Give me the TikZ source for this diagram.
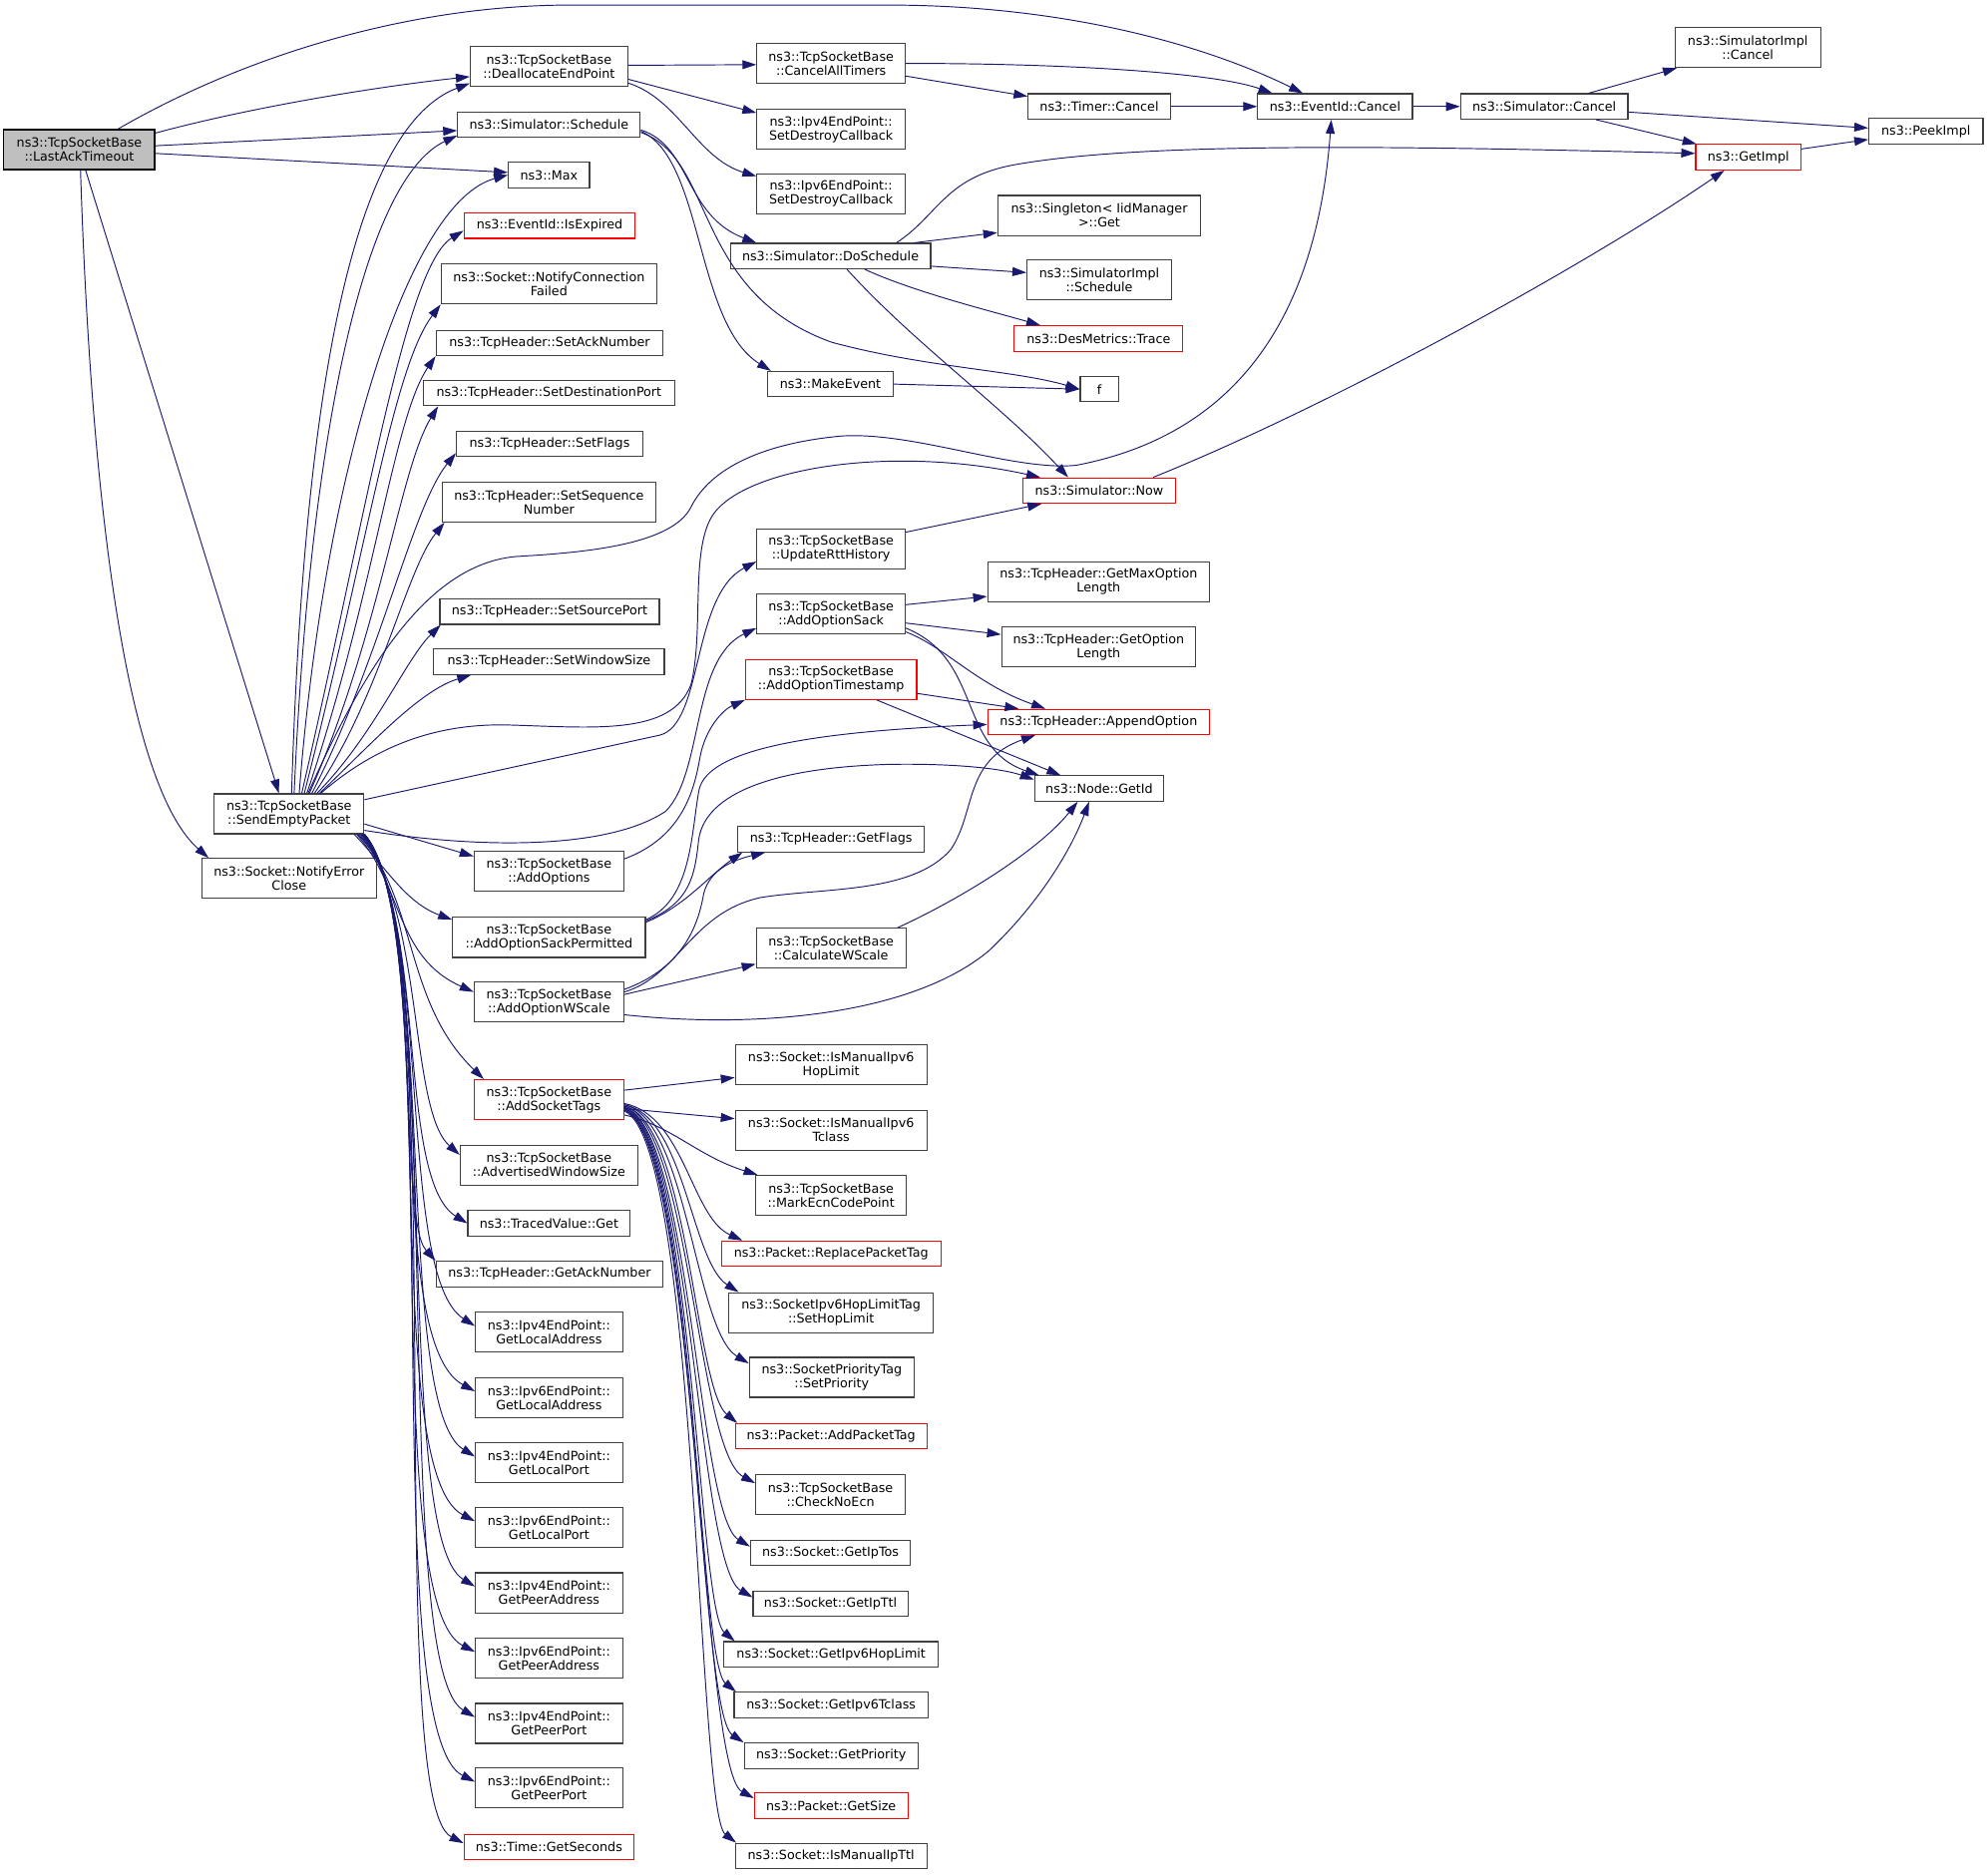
\documentclass[tikz,border=0pt]{standalone}
\usepackage{fontspec}
\setmainfont{DejaVu Sans}
\usetikzlibrary{arrows.meta,calc}
\definecolor{edgeblue}{HTML}{191970}
\definecolor{boxline}{HTML}{404040}
\definecolor{rootfill}{HTML}{BFBFBF}
\tikzset{
	fn/.style={draw=boxline, line width=0.9pt, fill=white, minimum height=20pt, inner sep=0pt, align=center, font=\fontsize{10}{11}\selectfont},
	fnii/.style={fn, minimum height=31.5pt},
	trunc/.style={draw=red},
	rootfn/.style={fill=rootfill, draw=black},
	call/.style={draw=edgeblue, line width=0.75pt, -{Triangle[length=11pt,width=7pt]}},
}

\begin{document}
\begin{tikzpicture}[x=1pt, y=-1pt]
		%%%%% START %%%%%
		
		\path[fill=white] (0,0) rectangle (1568,1479);
		
		\node[fnii, rootfn, minimum width=119pt] (lastack) at (62.5,118) {ns3::TcpSocketBase\\::LastAckTimeout};
		
		\node[fnii, minimum width=124pt] (dealloc) at (433,52.5) {ns3::TcpSocketBase\\::DeallocateEndPoint};
		\node[fn, minimum width=144pt] (schedule) at (433,98.5) {ns3::Simulator::Schedule};
		\node[fn, minimum width=64pt] (max) at (433,138) {ns3::Max};
		\node[fn, trunc, minimum width=135pt] (isexpired) at (433.5,178) {ns3::EventId::IsExpired};
		\node[fnii, minimum width=170pt] (notifyconn) at (433,224) {ns3::Socket::NotifyConnection\\Failed};
		\node[fn, minimum width=179pt] (setack) at (433.5,270.5) {ns3::TcpHeader::SetAckNumber};
		\node[fn, minimum width=198pt] (setdest) at (433,310) {ns3::TcpHeader::SetDestinationPort};
		\node[fn, minimum width=147pt] (setflags) at (433.5,350) {ns3::TcpHeader::SetFlags};
		\node[fnii, minimum width=168pt] (setseq) at (433,396) {ns3::TcpHeader::SetSequence\\Number};
		\node[fn, minimum width=173pt] (setsrc) at (433.5,482.5) {ns3::TcpHeader::SetSourcePort};
		\node[fn, minimum width=182pt] (setwin) at (433,522) {ns3::TcpHeader::SetWindowSize};
		
		\node[fnii, minimum width=118pt] (sendempty) at (228,642) {ns3::TcpSocketBase\\::SendEmptyPacket};
		\node[fnii, minimum width=138pt] (notifyerr) at (228,693) {ns3::Socket::NotifyError\\Close};
		
		\node[fnii, minimum width=118pt] (addopts) at (433,687.5) {ns3::TcpSocketBase\\::AddOptions};
		\node[fnii, minimum width=152pt] (sackperm) at (433,739.5) {ns3::TcpSocketBase\\::AddOptionSackPermitted};
		\node[fnii, minimum width=118pt] (wscale) at (433,790.5) {ns3::TcpSocketBase\\::AddOptionWScale};
		\node[fnii, trunc, minimum width=118pt] (socktags) at (433,867.5) {ns3::TcpSocketBase\\::AddSocketTags};
		\node[fnii, minimum width=140pt] (advwin) at (433,919) {ns3::TcpSocketBase\\::AdvertisedWindowSize};
		\node[fn, minimum width=128pt] (tracedget) at (433,965) {ns3::TracedValue::Get};
		\node[fn, minimum width=179pt] (getacknum) at (433.5,1005) {ns3::TcpHeader::GetAckNumber};
		\node[fnii, minimum width=116pt] (v4localaddr) at (433,1051) {ns3::Ipv4EndPoint::\\GetLocalAddress};
		\node[fnii, minimum width=116pt] (v6localaddr) at (433,1102.5) {ns3::Ipv6EndPoint::\\GetLocalAddress};
		\node[fnii, minimum width=116pt] (v4localport) at (433,1154) {ns3::Ipv4EndPoint::\\GetLocalPort};
		\node[fnii, minimum width=116pt] (v6localport) at (433,1205) {ns3::Ipv6EndPoint::\\GetLocalPort};
		\node[fnii, minimum width=116pt] (v4peeraddr) at (433,1256.5) {ns3::Ipv4EndPoint::\\GetPeerAddress};
		\node[fnii, minimum width=116pt] (v6peeraddr) at (433,1308) {ns3::Ipv6EndPoint::\\GetPeerAddress};
		\node[fnii, minimum width=116pt] (v4peerport) at (433,1359.5) {ns3::Ipv4EndPoint::\\GetPeerPort};
		\node[fnii, minimum width=116pt] (v6peerport) at (433,1410.5) {ns3::Ipv6EndPoint::\\GetPeerPort};
		\node[fn, trunc, minimum width=134pt] (getseconds) at (433,1457) {ns3::Time::GetSeconds};
		
		\node[fnii, minimum width=117pt] (cancelall) at (655.5,50) {ns3::TcpSocketBase\\::CancelAllTimers};
		\node[fnii, minimum width=117pt] (v4destroy) at (655.5,102) {ns3::Ipv4EndPoint::\\SetDestroyCallback};
		\node[fnii, minimum width=117pt] (v6destroy) at (655.5,153) {ns3::Ipv6EndPoint::\\SetDestroyCallback};
		\node[fn, minimum width=158pt] (doschedule) at (655,202) {ns3::Simulator::DoSchedule};
		\node[fn, minimum width=99pt] (makeevent) at (655,303) {ns3::MakeEvent};
		\node[fnii, minimum width=117pt] (updatertt) at (655.5,433) {ns3::TcpSocketBase\\::UpdateRttHistory};
		\node[fnii, minimum width=117pt] (addsack) at (655.5,484.5) {ns3::TcpSocketBase\\::AddOptionSack};
		\node[fnii, trunc, minimum width=135pt] (addts) at (655.5,536) {ns3::TcpSocketBase\\::AddOptionTimestamp};
		\node[fn, minimum width=147pt] (getflags) at (655.5,662) {ns3::TcpHeader::GetFlags};
		\node[fnii, minimum width=118pt] (calcws) at (655.5,748) {ns3::TcpSocketBase\\::CalculateWScale};
		
		\node[fnii, minimum width=151pt] (ismanhop) at (655.5,840) {ns3::Socket::IsManualIpv6\\HopLimit};
		\node[fnii, minimum width=151pt] (ismantcl) at (655.5,891.5) {ns3::Socket::IsManualIpv6\\Tclass};
		\node[fnii, minimum width=119pt] (markecn) at (655.5,943) {ns3::TcpSocketBase\\::MarkEcnCodePoint};
		\node[fn, trunc, minimum width=173pt] (replacetag) at (655.5,989) {ns3::Packet::ReplacePacketTag};
		\node[fnii, minimum width=161pt] (sethoplimit) at (655.5,1035.5) {ns3::SocketIpv6HopLimitTag\\::SetHopLimit};
		\node[fnii, minimum width=130pt] (setprio) at (656,1086.5) {ns3::SocketPriorityTag\\::SetPriority};
		\node[fn, trunc, minimum width=151pt] (addtag) at (655.5,1133) {ns3::Packet::AddPacketTag};
		\node[fnii, minimum width=118pt] (checknoecn) at (655,1179) {ns3::TcpSocketBase\\::CheckNoEcn};
		\node[fn, minimum width=126pt] (getiptos) at (655,1225) {ns3::Socket::GetIpTos};
		\node[fn, minimum width=122pt] (getipttl) at (655,1265) {ns3::Socket::GetIpTtl};
		\node[fn, minimum width=169pt] (getv6hop) at (655.5,1305) {ns3::Socket::GetIpv6HopLimit};
		\node[fn, minimum width=153pt] (getv6tclass) at (655.5,1345) {ns3::Socket::GetIpv6Tclass};
		\node[fn, minimum width=137pt] (getprio) at (655.5,1385) {ns3::Socket::GetPriority};
		\node[fn, trunc, minimum width=121pt] (getsize) at (655.5,1424.5) {ns3::Packet::GetSize};
		\node[fn, minimum width=151pt] (ismanttl) at (655.5,1464) {ns3::Socket::IsManualIpTtl};
		
		\node[fn, minimum width=112pt] (timercancel) at (867,84) {ns3::Timer::Cancel};
		\node[fnii, minimum width=160pt] (singleton) at (867,170) {ns3::Singleton< IidManager\\>::Get};
		\node[fnii, minimum width=114pt] (simimplsched) at (867,221) {ns3::SimulatorImpl\\::Schedule};
		\node[fn, trunc, minimum width=133pt] (destrace) at (866.5,267) {ns3::DesMetrics::Trace};
		\node[fn, minimum width=30pt] (fnode) at (867,307) {f};
		\node[fn, trunc, minimum width=120pt] (simnow) at (867,387) {ns3::Simulator::Now};
		\node[fnii, minimum width=175pt] (getmaxopt) at (866.5,459) {ns3::TcpHeader::GetMaxOption\\Length};
		\node[fnii, minimum width=153pt] (getoptlen) at (866.5,510.5) {ns3::TcpHeader::GetOption\\Length};
		\node[fn, trunc, minimum width=175pt] (appendopt) at (866.5,569.5) {ns3::TcpHeader::AppendOption};
		\node[fn, minimum width=102pt] (nodegetid) at (867,622) {ns3::Node::GetId};
		
		\node[fn, minimum width=122pt] (eventcancel) at (1053,84) {ns3::EventId::Cancel};
		\node[fn, minimum width=132pt] (simcancel) at (1218,84) {ns3::Simulator::Cancel};
		\node[fnii, minimum width=115pt] (simimplcancel) at (1378.5,37.5) {ns3::SimulatorImpl\\::Cancel};
		\node[fn, trunc, minimum width=83pt] (getimpl) at (1379,124) {ns3::GetImpl};
		\node[fn, minimum width=90pt] (peekimpl) at (1519,103.5) {ns3::PeekImpl};
		
		% LastAckTimeout
		\draw[call] (lastack.28) .. controls (200,40) and (330,4) .. (450,4) -- (700,4) .. controls (850,4) and (960,40) .. ($(eventcancel.north west)+(36,0)$);
		\draw[call] ($(lastack.east)+(0,-13)$) .. controls (200,84) and (300,68) .. ($(dealloc.west)+(0,8)$);
		\draw[call] ($(lastack.east)+(0,-3)$) -- ($(schedule.west)+(0,4.5)$);
		\draw[call] ($(lastack.east)+(0,3)$) -- ($(max.west)+(0,-2)$);
		\draw[call] ($(lastack.south)+(5,0)$) -- ($(sendempty.north)+(-8,0)$);
		\draw[call] ($(lastack.south)+(1,0)$) .. controls (72,400) and (100,620) .. ($(notifyerr.north west)+(6,0)$);
		
		% DeallocateEndPoint, timers, impl
		\draw[call] ($(dealloc.east)+(0,-1)$) -- ($(cancelall.west)+(0,1)$);
		\draw[call] ($(dealloc.east)+(0,10)$) -- ($(v4destroy.west)+(0,-13)$);
		\draw[call] ($(dealloc.east)+(0,13)$) .. controls (535,78) and (550,125) .. ($(v6destroy.west)+(0,-14)$);
		\draw[call] (cancelall.east) .. controls (850,50) and (960,58) .. ($(eventcancel.north west)+(12,0)$);
		\draw[call] ($(cancelall.east)+(0,10)$) -- ($(timercancel.west)+(0,-8)$);
		\draw[call] (timercancel.east) -- (eventcancel.west);
		\draw[call] (eventcancel.east) -- (simcancel.west);
		\draw[call] ($(simcancel.north)+(35,0)$) -- ($(simimplcancel.south west)+(2,0)$);
		\draw[call] ($(simcancel.east)+(0,4.4)$) -- ($(peekimpl.west)+(0,-2.5)$);
		\draw[call] ($(simcancel.south)+(41,0)$) -- ($(getimpl.north west)+(1,0)$);
		\draw[call] ($(getimpl.east)+(0,-6.5)$) -- ($(peekimpl.west)+(0,6.5)$);
		
		% Schedule
		\draw[call] ($(schedule.east)+(0,4)$) .. controls (545,115) and (540,170) .. ($(doschedule.north west)+(21,0)$);
		\draw[call] ($(schedule.east)+(0,5)$) .. controls (555,125) and (548,255) .. ($(makeevent.north west)+(3,0)$);
		\draw[call] ($(schedule.east)+(0,6)$) .. controls (565,125) and (545,230) .. (656,270) .. controls (730,290) and (800,292) .. (fnode.west);
		\draw[call] ($(doschedule.north)+(52,0)$) .. controls (740,170) and (745,140) .. (800,130) .. controls (900,112) and (1100,115) .. ($(getimpl.west)+(0,-3)$);
		\draw[call] ($(doschedule.north)+(66,0)$) -- ($(singleton.west)+(0,13.5)$);
		\draw[call] ($(doschedule.east)+(0,8)$) -- ($(simimplsched.west)+(0,-6)$);
		\draw[call] ($(doschedule.south)+(27,0)$) .. controls (720,230) and (780,245) .. ($(destrace.north west)+(21,0)$);
		\draw[call] ($(doschedule.south)+(13,0)$) .. controls (720,270) and (790,320) .. ($(simnow.north west)+(36,0)$);
		\draw[call] (makeevent.east) -- (fnode.west);
		\draw[call] ($(simnow.north east)+(-18,0)$) .. controls (1050,320) and (1250,210) .. ($(getimpl.south west)+(23,0)$);
		\draw[call] ($(updatertt.north east)+(0,3)$) -- ($(simnow.south west)+(15,0)$);
		
		% options
		\draw[call] ($(addsack.east)+(0,-7.5)$) -- ($(getmaxopt.west)+(0,11.5)$);
		\draw[call] ($(addsack.east)+(0,7)$) -- ($(getoptlen.west)+(0,-10)$);
		\draw[call] ($(addsack.east)+(0,14)$) .. controls (745,510) and (770,540) .. ($(appendopt.north west)+(46,0)$);
		\draw[call] ($(addsack.east)+(0,11)$) .. controls (775,520) and (755,590) .. ($(nodegetid.north west)+(4,0)$);
		\draw[call] ($(addts.east)+(0,11)$) -- ($(appendopt.north west)+(25,0)$);
		\draw[call] ($(addts.south)+(36,0)$) -- ($(nodegetid.north west)+(21,0)$);
		\draw[call] ($(addopts.east)+(0,-10)$) .. controls (540,660) and (548,620) .. (552,598) .. controls (556,575) and (570,560) .. (addts.south west);
		\draw[call] ($(sackperm.east)+(0,-12)$) .. controls (540,715) and (560,690) .. ($(getflags.south west)+(4,0)$);
		\draw[call] ($(sackperm.east)+(0,-14)$) .. controls (545,710) and (545,660) .. (551,625) .. controls (555,595) and (620,578) .. ($(appendopt.west)+(0,2)$);
		\draw[call] ($(sackperm.east)+(0,-13)$) .. controls (545,712) and (548,690) .. (551,663) .. controls (555,630) and (600,606) .. (700,603) .. controls (750,602) and (790,606) .. ($(nodegetid.west)+(0,-7)$);
		\draw[call] ($(wscale.east)+(0,-10)$) .. controls (535,765) and (550,735) .. (555,705) .. controls (560,685) and (580,678) .. ($(getflags.south west)+(22,0)$);
		\draw[call] ($(wscale.east)+(0,-8)$) .. controls (535,770) and (545,720) .. (600,708) .. controls (650,700) and (720,705) .. (750,670) .. controls (770,640) and (760,600) .. ($(appendopt.south west)+(38,0)$);
		\draw[call] ($(wscale.east)+(0,-6)$) -- ($(calcws.west)+(0,12.5)$);
		\draw[call] ($(wscale.east)+(0,10)$) .. controls (600,812) and (720,800) .. (780,750) .. controls (820,712) and (845,670) .. ($(nodegetid.south)+(-8,0)$);
		\draw[call] ($(calcws.north east)+(-7,0)$) .. controls (760,708) and (820,670) .. ($(nodegetid.south)+(-17,0)$);
		
		% SendEmptyPacket up
		\draw[call] ($(sendempty.north)+(2,0)$) .. controls (240,300) and (280,100) .. ($(dealloc.south west)+(0,-3)$);
		\draw[call] ($(sendempty.north)+(4,0)$) .. controls (245,330) and (290,140) .. ($(schedule.south west)+(0,-2)$);
		\draw[call] ($(sendempty.north)+(8,0)$) .. controls (255,380) and (320,160) .. (max.west);
		\draw[call] ($(sendempty.north)+(10,0)$) .. controls (290,400) and (320,210) .. ($(isexpired.west)+(0,4)$);
		\draw[call] ($(sendempty.north)+(12,0)$) .. controls (290,430) and (310,290) .. (notifyconn.south west);
		\draw[call] ($(sendempty.north)+(14,0)$) .. controls (295,470) and (310,330) .. (setack.south west);
		\draw[call] ($(sendempty.north)+(16,0)$) .. controls (300,500) and (315,370) .. ($(setdest.south west)+(12,0)$);
		\draw[call] ($(sendempty.north)+(18,0)$) .. controls (300,520) and (325,400) .. ($(setflags.south west)+(0,-3)$);
		\draw[call] ($(sendempty.north)+(20,0)$) .. controls (300,550) and (320,450) .. ($(setseq.south west)+(2,0)$);
		\draw[call] ($(sendempty.north)+(22,0)$) .. controls (295,580) and (320,520) .. ($(setsrc.south west)+(1,0)$);
		\draw[call] ($(sendempty.north)+(24,0)$) .. controls (290,590) and (330,545) .. ($(setwin.south west)+(30,0)$);
		
		% SendEmptyPacket right
		\draw[call] ($(sendempty.north)+(15,0)$) .. controls (290,520) and (340,445) .. (407,439) .. controls (460,436) and (530,430) .. (545,400) .. controls (560,370) and (600,350) .. (663,344) .. controls (720,340) and (800,372) .. (849,367) .. controls (990,340) and (1040,230) .. ($(eventcancel.south)+(-3,0)$);
		\draw[call] ($(sendempty.north)+(25,0)$) .. controls (300,585) and (350,570) .. (404,572) .. controls (470,574) and (530,580) .. (545,540) .. controls (555,500) and (545,440) .. (560,410) .. controls (580,370) and (700,350) .. ($(simnow.north west)+(14,0)$);
		\draw[call] ($(sendempty.north east)+(0,5)$) -- (520,580) .. controls (555,572) and (545,470) .. ($(updatertt.west)+(0,10)$);
		\draw[call] ($(sendempty.east)+(0,13)$) .. controls (380,670) and (480,670) .. (525,640) .. controls (555,610) and (545,520) .. ($(addsack.west)+(0,11)$);
		\draw[call] ($(sendempty.east)+(0,8)$) -- ($(addopts.west)+(0,-12)$);
		
		% SendEmptyPacket down
		\draw[call] ($(sendempty.south east)+(-8,0)$) .. controls (305,685) and (320,712) .. ($(sackperm.west)+(0,-14)$);
		\draw[call] ($(sendempty.south east)+(-6,0)$) .. controls (318,700) and (312,755) .. ($(wscale.west)+(0,-8)$);
		\draw[call] ($(sendempty.south east)+(-5,0)$) .. controls (330,710) and (318,790) .. ($(socktags.north west)+(8,0)$);
		\draw[call] ($(sendempty.south east)+(-4,0)$) .. controls (335,715) and (322,875) .. ($(advwin.west)+(0,-8)$);
		\draw[call] ($(sendempty.south east)+(-3,0)$) .. controls (338,718) and (312,930) .. (tracedget.west);
		\draw[call] ($(sendempty.south east)+(-2,0)$) .. controls (340,720) and (312,960) .. (getacknum.north west);
		\draw[call] ($(sendempty.south east)+(-2,0)$) .. controls (342,722) and (312,1006) .. ($(v4localaddr.west)+(0,-5)$);
		\draw[call] ($(sendempty.south east)+(-1,0)$) .. controls (344,724) and (300,1057) .. ($(v6localaddr.west)+(0,-5)$);
		\draw[call] ($(sendempty.south east)+(-1,0)$) .. controls (346,726) and (310,1109) .. ($(v4localport.west)+(0,-5)$);
		\draw[call] ($(sendempty.south east)+(0,0)$) .. controls (348,728) and (298,1160) .. ($(v6localport.west)+(0,-5)$);
		\draw[call] ($(sendempty.south east)+(0,0)$) .. controls (350,730) and (308,1211) .. ($(v4peeraddr.west)+(0,-5)$);
		\draw[call] ($(sendempty.south east)+(0,0)$) .. controls (352,732) and (296,1263) .. ($(v6peeraddr.west)+(0,-5)$);
		\draw[call] ($(sendempty.south east)+(0,0)$) .. controls (354,734) and (306,1314) .. ($(v4peerport.west)+(0,-5)$);
		\draw[call] ($(sendempty.south east)+(0,0)$) .. controls (356,736) and (294,1365) .. ($(v6peerport.west)+(0,-5)$);
		\draw[call] ($(sendempty.south east)+(0,0)$) .. controls (358,738) and (300,1420) .. ($(getseconds.west)+(0,-3)$);
		
		% AddSocketTags
		\draw[call] ($(socktags.east)+(0,-7.5)$) -- ($(ismanhop.west)+(0,10)$);
		\draw[call] ($(socktags.east)+(0,7)$) -- ($(ismantcl.west)+(0,-9)$);
		\draw[call] ($(socktags.east)+(0,12)$) .. controls (530,888) and (550,912) .. ($(markecn.north west)+(2,0)$);
		\draw[call] ($(socktags.east)+(0,3)$) .. controls (540,880) and (545,960) .. ($(replacetag.north west)+(17,0)$);
		\draw[call] ($(socktags.east)+(0,4)$) .. controls (540,880) and (545,995) .. ($(sethoplimit.north west)+(8,0)$);
		\draw[call] ($(socktags.east)+(0,4)$) .. controls (542,882) and (548,1050) .. ($(setprio.west)+(0,-11)$);
		\draw[call] ($(socktags.east)+(0,5)$) .. controls (543,884) and (548,1095) .. ($(addtag.north west)+(2,0)$);
		\draw[call] ($(socktags.east)+(0,5)$) .. controls (544,886) and (550,1145) .. ($(checknoecn.west)+(0,-9)$);
		\draw[call] ($(socktags.east)+(0,6)$) .. controls (545,888) and (550,1195) .. ($(getiptos.west)+(0,-5)$);
		\draw[call] ($(socktags.east)+(0,6)$) .. controls (546,890) and (550,1235) .. ($(getipttl.west)+(0,-5)$);
		\draw[call] ($(socktags.east)+(0,7)$) .. controls (547,892) and (550,1270) .. ($(getv6hop.north west)+(9,0)$);
		\draw[call] ($(socktags.east)+(0,7)$) .. controls (548,894) and (550,1310) .. ($(getv6tclass.north west)+(2,0)$);
		\draw[call] ($(socktags.east)+(0,8)$) .. controls (549,896) and (550,1350) .. (getprio.north west);
		\draw[call] ($(socktags.east)+(0,8)$) .. controls (550,898) and (552,1395) .. ($(getsize.west)+(0,-6)$);
		\draw[call] ($(socktags.east)+(0,9)$) .. controls (550,900) and (550,1430) .. ($(ismanttl.north west)+(1,0)$);
		
		%%%%% END %%%%%
	\end{tikzpicture}
\end{document}
